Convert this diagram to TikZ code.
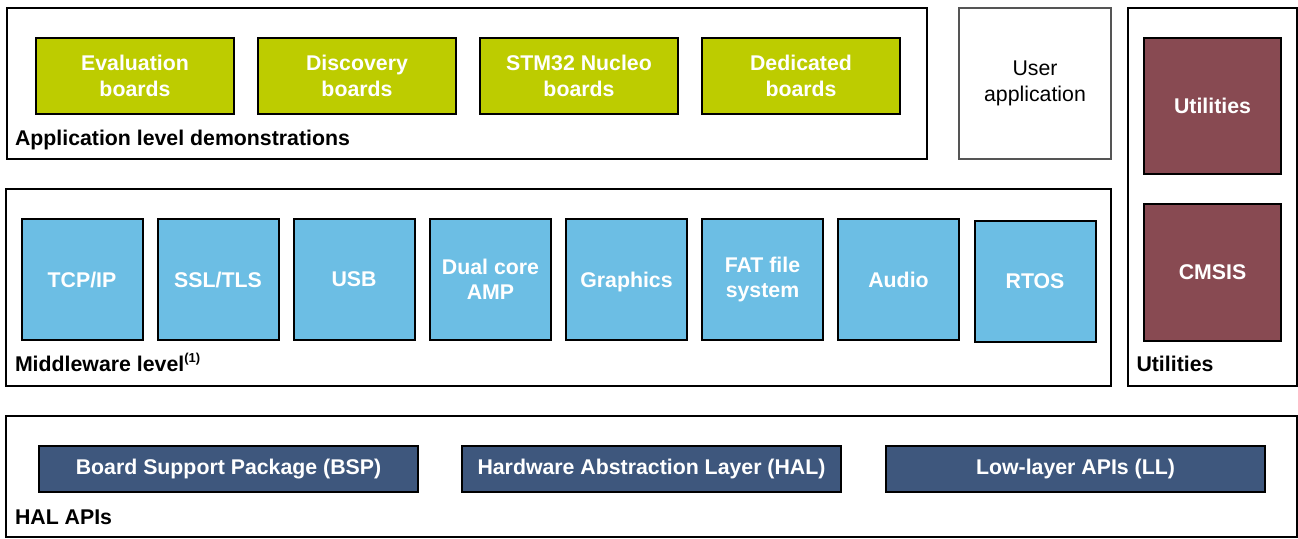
\documentclass[tikz,border=0pt]{standalone}
\usepackage{fontspec}
\setmainfont{Liberation Sans}
\definecolor{demogreen}{RGB}{189,204,0}
\definecolor{midblue}{RGB}{108,190,228}
\definecolor{utilred}{RGB}{136,74,82}
\definecolor{halblue}{RGB}{62,87,125}
\definecolor{usergray}{RGB}{85,85,85}

\begin{document}
\begin{tikzpicture}[x=1pt, y=-1pt,
    every node/.style = {rectangle, inner sep=0pt, outer sep=0pt,
      font=\fontsize{21.3}{25.5}\selectfont\bfseries, align=center},
    layer/.style      = {draw=black, line width=2pt},
    layer title/.style = {anchor=base west, text=black},
    demo/.style       = {draw=black, line width=2pt, fill=demogreen, text=white,
      minimum width=198pt, minimum height=76pt},
    middle/.style     = {draw=black, line width=2pt, fill=midblue, text=white,
      minimum width=121pt, minimum height=121pt},
    util/.style       = {draw=black, line width=2pt, fill=utilred, text=white,
      minimum width=137pt, minimum height=136pt},
    hal/.style        = {draw=black, line width=2pt, fill=halblue, text=white,
      minimum width=379pt, minimum height=46pt},
  ]
  \useasboundingbox (0,0) rectangle (1298,538);

  % containers
  \node[layer, minimum width=920pt, minimum height=151pt] (appframe) at (467,83.5) {};
  \node[draw=usergray, line width=2pt, minimum width=152pt, minimum height=151pt,
    font=\fontsize{21.3}{26.5}\selectfont] (user) at (1035,83.5) {User\\application};
  \node[layer, minimum width=169pt, minimum height=378pt] (utilframe) at (1212.5,197) {};
  \node[layer, minimum width=1105pt, minimum height=197pt] (midframe) at (558.5,287.5) {};
  \node[layer, minimum width=1291pt, minimum height=121pt] (halframe) at (651.5,476.5) {};

  % application level
  \node[demo] (eval)      at (135,76) {Evaluation\\boards};
  \node[demo] (discovery) at (357,76) {Discovery\\boards};
  \node[demo] (nucleo)    at (579,76) {STM32 Nucleo\\boards};
  \node[demo] (dedicated) at (801,76) {Dedicated\\boards};
  \node[layer title] (apptitle) at (15,145) {Application level demonstrations};

  % middleware level
  \node[middle] (tcpip)    at (82,279.5)    {TCP/IP};
  \node[middle] (ssltls)   at (218,279.5)   {SSL/TLS};
  \node[middle] (usb)      at (354,279.5)   {USB};
  \node[middle] (dualcore) at (490.5,279.5) {Dual core\\AMP};
  \node[middle, text depth=0pt] (graphics) at (626.5,279.5) {Graphics};
  \node[middle] (fatfs)    at (762.5,279.5) {FAT file\\system};
  \node[middle] (audio)    at (898.5,279.5) {Audio};
  \node[middle] (rtos)     at (1035,281.5)  {RTOS};
  \node[layer title] (midtitle) at (15,371.5)
    {Middleware level\raisebox{0.4em}{\fontsize{13}{13}\selectfont(1)}};

  % utilities
  \node[util] (utilities) at (1212.5,106)   {Utilities};
  \node[util, minimum height=137pt] (cmsis) at (1212.5,272.5) {CMSIS};
  \node[layer title] (utiltitle) at (1136.5,371) {Utilities};

  % HAL APIs
  \node[hal] (bsp)  at (228.5,469.3)  {Board Support Package (BSP)};
  \node[hal] (hapi) at (651.5,469.3)  {Hardware Abstraction Layer (HAL)};
  \node[hal] (ll)   at (1075.5,469.3) {Low-layer APIs (LL)};
  \node[layer title] (haltitle) at (15,524) {HAL APIs};
\end{tikzpicture}
\end{document}
